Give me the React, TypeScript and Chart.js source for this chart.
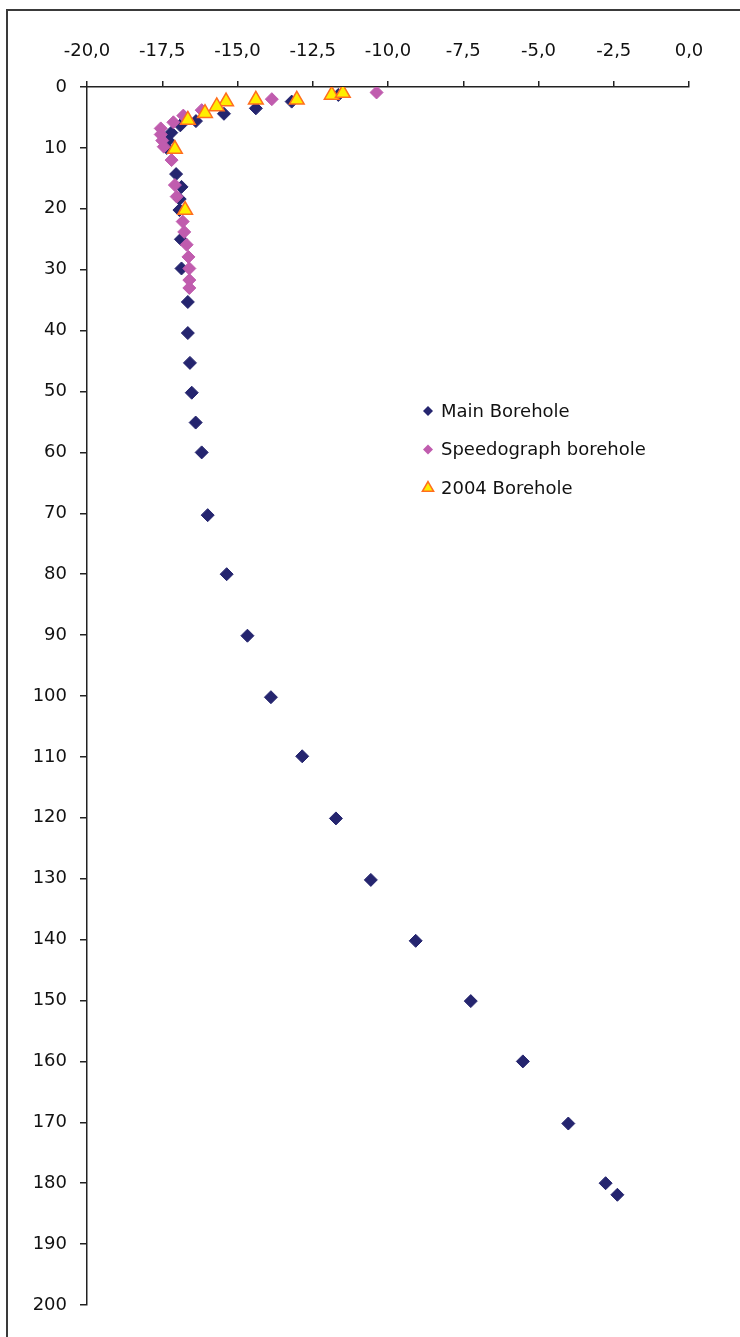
import React, { useEffect, useRef } from 'react';
import { Chart, registerables } from 'chart.js';

Chart.register(...registerables);

// Main Borehole: temperature (°C) vs depth (m)
const mainTemp = [
  -11.65, -13.2, -14.39, -15.45, -16.38, -16.9, -17.2, -17.3, -17.35, -17.04,
  -16.86, -16.92, -16.93, -16.88, -16.86, -16.65, -16.65, -16.58, -16.52, -16.39,
  -16.19, -15.99, -15.36, -14.67, -13.89, -12.85, -11.73, -10.57, -9.08, -7.25,
  -5.52, -4.01, -2.77, -2.38,
];
const mainDepth = [
  1.3, 2.4, 3.5, 4.4, 5.6, 6.3, 7.5, 8.8, 10.0, 14.3,
  16.4, 18.4, 20.2, 25.0, 29.8, 35.3, 40.4, 45.3, 50.2, 55.1,
  60.0, 70.3, 80.0, 90.1, 100.2, 109.9, 120.1, 130.2, 140.2, 150.1,
  160.0, 170.2, 180.0, 181.9,
];

// Speedograph borehole
const speedoTemp = [
  -10.38, -13.86, -16.19, -16.8, -17.13, -17.55, -17.55, -17.5, -17.45, -17.19,
  -17.08, -17.02, -16.82, -16.77, -16.69, -16.63, -16.6, -16.6, -16.6,
];
const speedoDepth = [
  0.9, 2.0, 3.8, 4.7, 5.8, 6.8, 7.8, 8.8, 9.8, 12.0,
  16.1, 18.0, 22.1, 23.8, 25.9, 27.9, 29.8, 31.7, 33.0,
];

// 2004 Borehole
const b2004Temp = [-11.87, -11.5, -13.03, -14.39, -15.38, -15.69, -16.08, -16.65, -17.08, -16.74];
const b2004Depth = [1.3, 1.0, 2.1, 2.1, 2.4, 3.2, 4.3, 5.4, 10.2, 20.2];

const seriesLabels = ['Main Borehole', 'Speedograph borehole', '2004 Borehole'];

const X_MIN = -20;
const X_MAX = 0;
const X_STEP = 2.5;
const Y_MIN = 0;
const Y_MAX = 200;
const Y_STEP = 10;

const NAVY = '#25256f';
const PINK = '#c05cae';
const YELLOW = '#ffee00';
const ORANGE = '#ff6e1e';
const FONT = '"DejaVu Sans", "Liberation Sans", Arial, sans-serif';

const toPoints = (xs: number[], ys: number[]) => xs.map((x, i) => ({ x, y: ys[i] }));

const fmt = (v: number) => {
  const n = Math.abs(v) < 1e-9 ? 0 : v;
  return n.toFixed(1).replace('.', ',');
};

const framePlugin = {
  id: 'frame',
  beforeDraw(chart: any) {
    const ctx = chart.ctx;
    ctx.save();
    ctx.fillStyle = '#ffffff';
    ctx.fillRect(0, 0, chart.width, chart.height);
    ctx.strokeStyle = '#3a3a3a';
    ctx.lineWidth = 2;
    ctx.beginPath();
    ctx.moveTo(7, chart.height + 5);
    ctx.lineTo(7, 10);
    ctx.lineTo(chart.width + 5, 10);
    ctx.stroke();
    ctx.restore();
  },
};

const legendPlugin = {
  id: 'customLegend',
  afterDraw(chart: any) {
    const ctx = chart.ctx;
    ctx.save();
    ctx.font = `18px ${FONT}`;
    ctx.textBaseline = 'middle';
    ctx.textAlign = 'left';
    const mx = 428;
    const tx = 441;
    const y0 = 411;
    const dy = 38.5;
    seriesLabels.forEach((label, i) => {
      const y = y0 + i * dy;
      ctx.beginPath();
      if (i === 2) {
        const r = 6.5;
        ctx.moveTo(mx, y - r);
        ctx.lineTo(mx + r * 0.866, y + r / 2);
        ctx.lineTo(mx - r * 0.866, y + r / 2);
        ctx.closePath();
        ctx.fillStyle = YELLOW;
        ctx.fill();
        ctx.strokeStyle = ORANGE;
        ctx.lineWidth = 1.5;
        ctx.stroke();
      } else {
        const r = 5;
        ctx.moveTo(mx, y - r);
        ctx.lineTo(mx + r, y);
        ctx.lineTo(mx, y + r);
        ctx.lineTo(mx - r, y);
        ctx.closePath();
        ctx.fillStyle = i === 0 ? NAVY : PINK;
        ctx.fill();
      }
      ctx.fillStyle = '#111111';
      ctx.fillText(label, tx, y + 1);
    });
    ctx.restore();
  },
};

export default function App() {
  const canvasRef = useRef<HTMLCanvasElement | null>(null);

  useEffect(() => {
    const canvas = canvasRef.current;
    if (!canvas) return;
    const chart = new Chart(canvas, {
      type: 'scatter',
      data: {
        datasets: [
          {
            label: seriesLabels[0],
            data: toPoints(mainTemp, mainDepth),
            pointStyle: 'rectRot',
            pointRadius: 6.5,
            backgroundColor: NAVY,
            borderColor: NAVY,
            borderWidth: 1,
            order: 3,
          },
          {
            label: seriesLabels[1],
            data: toPoints(speedoTemp, speedoDepth),
            pointStyle: 'rectRot',
            pointRadius: 6.5,
            backgroundColor: PINK,
            borderColor: PINK,
            borderWidth: 1,
            order: 2,
          },
          {
            label: seriesLabels[2],
            data: toPoints(b2004Temp, b2004Depth),
            pointStyle: 'triangle',
            pointRadius: 8.5,
            backgroundColor: YELLOW,
            borderColor: ORANGE,
            borderWidth: 1.5,
            order: 1,
          },
        ],
      },
      options: {
        responsive: false,
        animation: false,
        layout: { padding: { left: 0, top: 0, right: 51, bottom: 32 } },
        plugins: {
          legend: { display: false },
          tooltip: { enabled: false },
        },
        scales: {
          x: {
            type: 'linear',
            position: 'top',
            min: X_MIN,
            max: X_MAX,
            grid: {
              display: true,
              drawOnChartArea: false,
              drawTicks: true,
              tickLength: 6,
              color: '#222222',
              lineWidth: 1.5,
            },
            border: { display: true, color: '#222222', width: 1.5 },
            ticks: {
              stepSize: X_STEP,
              padding: 19,
              color: '#111111',
              font: { family: FONT, size: 18 },
              maxRotation: 0,
              autoSkip: false,
              callback: (v: any) => fmt(Number(v)),
            },
            afterFit: (s: any) => {
              s.height = 87;
            },
          },
          y: {
            type: 'linear',
            position: 'left',
            reverse: true,
            min: Y_MIN,
            max: Y_MAX,
            grid: {
              display: true,
              drawOnChartArea: false,
              drawTicks: true,
              tickLength: 7,
              color: '#222222',
              lineWidth: 1.5,
            },
            border: { display: true, color: '#222222', width: 1.5 },
            ticks: {
              stepSize: Y_STEP,
              padding: 13,
              color: '#111111',
              font: { family: FONT, size: 18 },
              autoSkip: false,
              callback: (v: any) => String(v),
            },
            afterFit: (s: any) => {
              s.width = 87;
            },
          },
        },
      },
      plugins: [framePlugin, legendPlugin],
    });
    return () => chart.destroy();
  }, []);

  return (
    <div style={{ position: 'absolute', left: 0, top: 0, width: 740, height: 1337 }}>
      <canvas ref={canvasRef} width={740} height={1337} style={{ display: 'block' }} />
    </div>
  );
}
